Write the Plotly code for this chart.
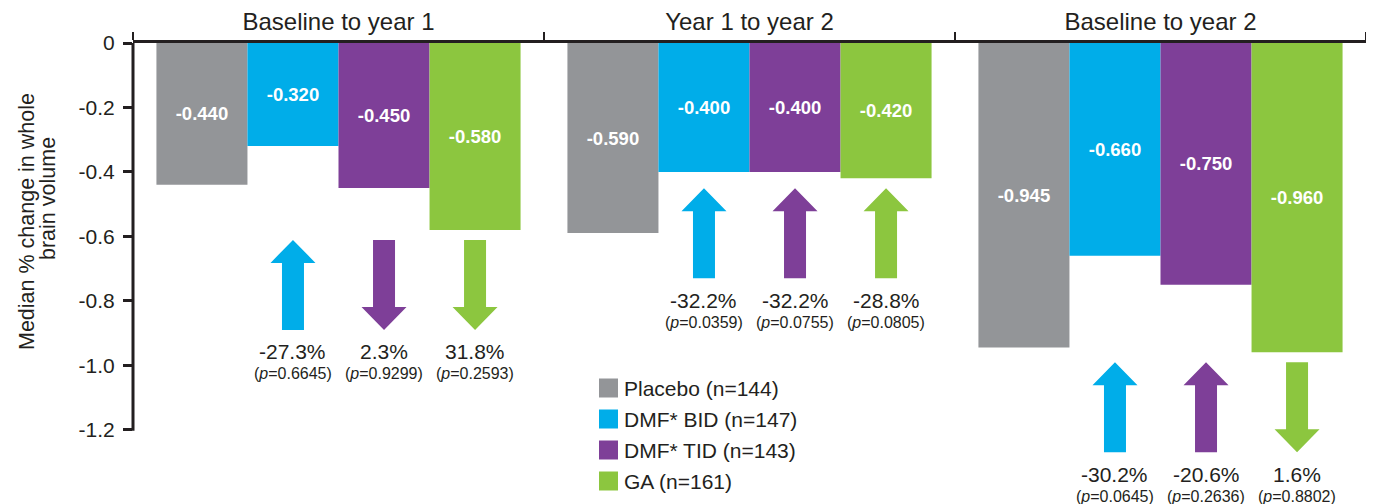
import plotly.graph_objects as go

# ---------------- data ----------------
periods = ["Baseline to year 1", "Year 1 to year 2", "Baseline to year 2"]
series_names = ["Placebo (n=144)", "DMF* BID (n=147)", "DMF* TID (n=143)", "GA (n=161)"]
placebo = [-0.440, -0.590, -0.945]
dmf_bid = [-0.320, -0.400, -0.660]
dmf_tid = [-0.450, -0.400, -0.750]
ga = [-0.580, -0.420, -0.960]

# % change relative to placebo and p-values (treatment arms only)
bid_pct = [-27.3, -32.2, -30.2]
tid_pct = [2.3, -32.2, -20.6]
ga_pct = [31.8, -28.8, 1.6]
bid_p = ["0.6645", "0.0359", "0.0645"]
tid_p = ["0.9299", "0.0755", "0.2636"]
ga_p = ["0.2593", "0.0805", "0.8802"]

y_tick_vals = [0, -0.2, -0.4, -0.6, -0.8, -1.0, -1.2]
y_tick_text = ["0", "-0.2", "-0.4", "-0.6", "-0.8", "-1.0", "-1.2"]

# ---------------- styles / layout constants ----------------
colors = ["#939598", "#00ADE9", "#7E3F98", "#8CC63F"]
TEXT = "#231F20"
FONT = "Liberation Sans, Arial, sans-serif"
OFF = 8                      # page body margin
W, H = 1374 - OFF, 504 - OFF
ML, MR, MT, MB = 133 - OFF, 8, 43 - OFF, 0
PX_Y = 322.2                   # px per y unit
Y_MIN = -(H - MT - MB) / PX_Y
PX_X = (W - ML - MR) / 3.0     # px per x unit
BARGAP = 0.114
N_SER = 4
BAR_W = (1 - BARGAP) / N_SER


def ypix(py):
    """screen pixel row -> data y"""
    return -(py - 43) / PX_Y


fig = go.Figure()

all_series = [placebo, dmf_bid, dmf_tid, ga]
x_idx = list(range(len(periods)))
for name, vals, col in zip(series_names, all_series, colors):
    fig.add_trace(go.Bar(
        x=x_idx, y=vals, name=name, marker=dict(color=col, line=dict(width=0)),
        texttemplate="%{y:.3f}", textposition="inside", insidetextanchor="middle",
        textangle=0,
        textfont=dict(color="white", size=18.5, family=FONT, weight="bold"),
        showlegend=False, hoverinfo="name+y",
    ))

# ---------------- arrows + annotations ----------------
annotations = []
shapes = []
treat = [(dmf_bid, bid_pct, bid_p), (dmf_tid, tid_pct, tid_p), (ga, ga_pct, ga_p)]
SW = 11 / PX_X      # half shaft width
HW = 22.5 / PX_X    # half head width
HH = 23 / PX_Y      # head height
LEN = 90 / PX_Y     # arrow length
for g in x_idx:
    top = min(t[0][g] for t in treat) - 10 / PX_Y
    bot = top - LEN
    for k, (vals, pct, pv) in enumerate(treat, start=1):
        cx = g - 0.5 + BARGAP / 2 + (k + 0.5) * BAR_W
        if pct[g] < 0:   # up arrow
            xs = [cx - SW, cx + SW, cx + SW, cx + HW, cx, cx - HW, cx - SW, cx - SW]
            ys = [bot, bot, top - HH, top - HH, top, top - HH, top - HH, bot]
        else:            # down arrow
            xs = [cx - SW, cx + SW, cx + SW, cx + HW, cx, cx - HW, cx - SW, cx - SW]
            ys = [top, top, bot + HH, bot + HH, bot, bot + HH, bot + HH, top]
        fig.add_trace(go.Scatter(
            x=xs, y=ys, mode="lines", fill="toself", fillcolor=colors[k],
            line=dict(width=0, color=colors[k]), showlegend=False, hoverinfo="skip",
        ))
        annotations.append(dict(
            x=cx, y=bot - 22 / PX_Y, xref="x", yref="y", showarrow=False,
            text=f"{pct[g]:.1f}%", font=dict(size=21, color=TEXT, family=FONT),
            xanchor="center", yanchor="middle",
        ))
        annotations.append(dict(
            x=cx, y=bot - 44 / PX_Y, xref="x", yref="y", showarrow=False,
            text=f"(<i>p</i>={pv[g]})", font=dict(size=16, color=TEXT, family=FONT),
            xanchor="center", yanchor="middle",
        ))

# ---------------- custom legend ----------------
LEG_X = (599 - 133) / PX_X - 0.5
LEG_Y = ypix(388)
SQ_W = 19 / PX_X
SQ_H = 19 / PX_Y
STEP = 31 / PX_Y
for i, (name, col) in enumerate(zip(series_names, colors)):
    yc = LEG_Y - i * STEP
    shapes.append(dict(type="rect", xref="x", yref="y", x0=LEG_X, x1=LEG_X + SQ_W,
                       y0=yc - SQ_H / 2, y1=yc + SQ_H / 2, fillcolor=col,
                       line=dict(width=0), layer="above"))
    annotations.append(dict(x=LEG_X + SQ_W + 4 / PX_X, y=yc, xref="x", yref="y",
                            showarrow=False, text=name, xanchor="left", yanchor="middle",
                            font=dict(size=21, color=TEXT, family=FONT)))

# y-axis line (only from 0 to -1.2)
shapes.append(dict(type="line", xref="paper", yref="y", x0=0, x1=0,
                   y0=1.5 / PX_Y, y1=y_tick_vals[-1] - 1.2 / PX_Y,
                   line=dict(color=TEXT, width=3), layer="above"))

# y-axis title (two lines)
PW = W - ML - MR
annotations.append(dict(x=(27 - 133) / PW, y=ypix(222), xref="paper", yref="y",
                        text="Median % change in whole", textangle=-90, showarrow=False,
                        xanchor="center", yanchor="middle",
                        font=dict(size=21.5, color=TEXT, family=FONT)))
annotations.append(dict(x=(48 - 133) / PW, y=ypix(199), xref="paper", yref="y",
                        text="brain volume", textangle=-90, showarrow=False,
                        xanchor="center", yanchor="middle",
                        font=dict(size=21.5, color=TEXT, family=FONT)))

fig.update_layout(
    width=W, height=H,
    margin=dict(l=ML, r=MR, t=MT, b=MB, pad=0, autoexpand=False),
    paper_bgcolor="white", plot_bgcolor="white",
    barmode="group", bargap=BARGAP, bargroupgap=0,
    font=dict(family=FONT, color=TEXT),
    shapes=shapes, annotations=annotations,
    showlegend=False,
    xaxis=dict(
        range=[-0.5, 2.5], side="top", tickmode="array", tickvals=x_idx, ticktext=periods,
        ticks="", tickfont=dict(size=24, color=TEXT, family=FONT), automargin=False,
        showline=True, linecolor=TEXT, linewidth=3, showgrid=False, zeroline=False,
        minor=dict(tickmode="array", tickvals=[-0.5, 0.5, 1.5, 2.5], ticks="outside",
                   ticklen=8, tickwidth=2, tickcolor=TEXT, showgrid=False),
        fixedrange=True,
    ),
    yaxis=dict(
        range=[Y_MIN, 0], tickmode="array", tickvals=y_tick_vals, ticktext=y_tick_text,
        ticks="outside", ticklen=9, tickwidth=2.5, tickcolor=TEXT, automargin=False,
        tickfont=dict(size=21, color=TEXT, family=FONT), ticklabelstandoff=4,
        showline=False, showgrid=False, zeroline=False, fixedrange=True,
    ),
)

fig.write_html("out.html")
